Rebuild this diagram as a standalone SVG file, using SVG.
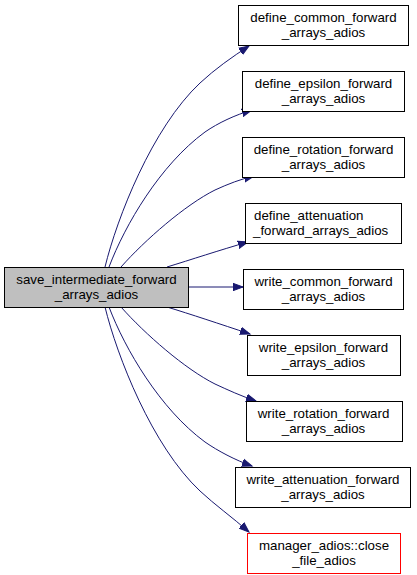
<svg xmlns="http://www.w3.org/2000/svg" width="417" height="575" viewBox="0 0 417 575">
<style>
.n{fill:#ffffff;stroke:#000000;stroke-width:1}
.m{fill:#bfbfbf;stroke:#000000;stroke-width:1}
.r{fill:#ffffff;stroke:#ff0000;stroke-width:1}
text{font-family:"Liberation Sans",Arial,sans-serif;font-size:13.3px;fill:#000000;text-anchor:middle}
.e path{fill:none;stroke:#191970;stroke-width:1;marker-end:url(#a)}
</style>
<defs>
<marker id="a" markerUnits="userSpaceOnUse" markerWidth="12" markerHeight="10" refX="10" refY="4" orient="auto" viewBox="0 0 12 8">
<path d="M0,0.3 L10,4 L0,7.7 z" fill="#191970" stroke="#191970"/>
</marker>
</defs>
<rect width="417" height="575" fill="#ffffff"/>
<g class="e" id="edges">
<path d="M105,267 C117,218 152,128 200,83 C215,69 232,57 249,46"/>
<path d="M109,267 C125,225 160,165 205,132 C218,123 235,115 252,110"/>
<path d="M121,267 C145,240 185,205 215,190 C228,184 241,179 254,176"/>
<path d="M167,267 C190,260 220,250 248,242"/>
<path d="M189,287 L243,287"/>
<path d="M167,307 C190,314 220,324 250,334"/>
<path d="M121,307 C145,334 185,369 215,384 C228,390 241,396 256,401"/>
<path d="M109,307 C125,349 160,409 205,442 C218,451 235,460 252,466"/>
<path d="M105,307 C117,356 152,446 200,491 C215,505 232,517 249,532"/>
</g>
<g id="main"><rect class="m" x="4.5" y="267.5" width="184" height="40"/><text x="96.5" y="284">save_intermediate_forward</text><text x="96.5" y="299">_arrays_adios</text></g>
<g id="n1"><rect class="n" x="238.5" y="5.5" width="170" height="40"/><text x="323.5" y="22">define_common_forward</text><text x="323.5" y="37">_arrays_adios</text></g>
<g id="n2"><rect class="n" x="242.5" y="71.5" width="162" height="40"/><text x="323.5" y="88">define_epsilon_forward</text><text x="323.5" y="103">_arrays_adios</text></g>
<g id="n3"><rect class="n" x="242.5" y="137.5" width="162" height="40"/><text x="323.5" y="154">define_rotation_forward</text><text x="323.5" y="169">_arrays_adios</text></g>
<g id="n4"><rect class="n" x="245.5" y="203.5" width="156" height="40"/><text x="254" y="220" style="text-anchor:start">define_attenuation</text><text x="253" y="235" style="text-anchor:start">_forward_arrays_adios</text></g>
<g id="n5"><rect class="n" x="243.5" y="269.5" width="160" height="40"/><text x="323.5" y="286">write_common_forward</text><text x="323.5" y="301">_arrays_adios</text></g>
<g id="n6"><rect class="n" x="247.5" y="335.5" width="153" height="40"/><text x="323.5" y="352">write_epsilon_forward</text><text x="323.5" y="367">_arrays_adios</text></g>
<g id="n7"><rect class="n" x="246.5" y="401.5" width="156" height="40"/><text x="323.5" y="418">write_rotation_forward</text><text x="323.5" y="433">_arrays_adios</text></g>
<g id="n8"><rect class="n" x="235.5" y="467.5" width="175" height="40"/><text x="323" y="484">write_attenuation_forward</text><text x="323" y="499">_arrays_adios</text></g>
<g id="n9"><rect class="r" x="247.5" y="533.5" width="153" height="40"/><text x="324" y="550">manager_adios::close</text><text x="324" y="565">_file_adios</text></g>
</svg>
